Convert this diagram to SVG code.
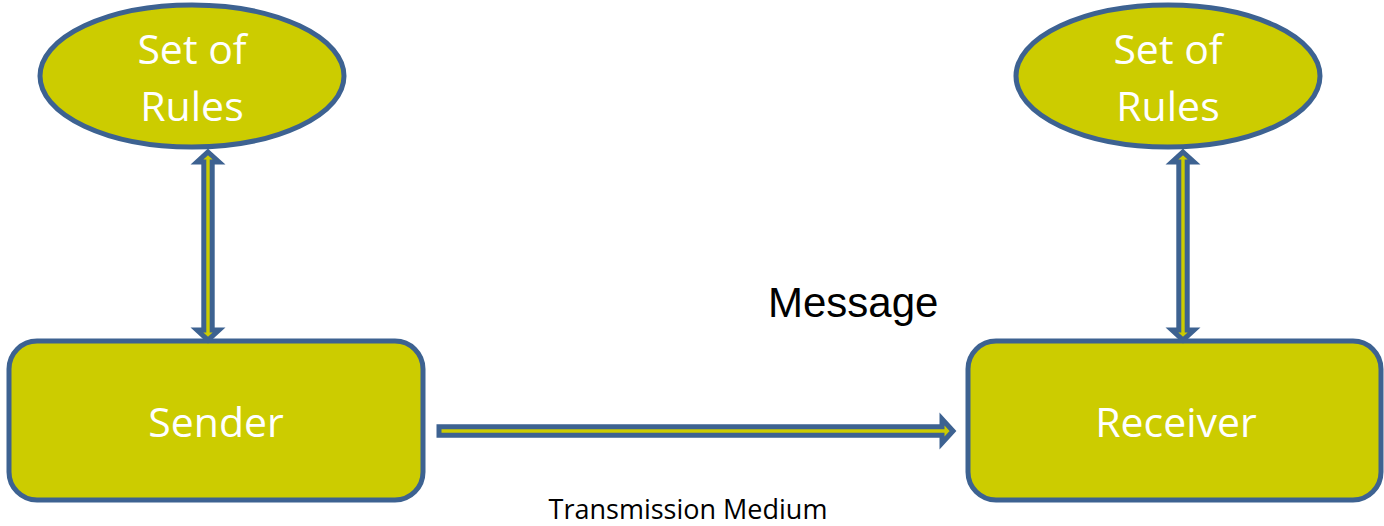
<svg xmlns="http://www.w3.org/2000/svg" width="1384" height="526" viewBox="0 0 1384 526">
<style>
.shape{fill:#CCCC00;stroke:#3D6291;stroke-width:5}
.conn{fill:#CCCC00;stroke:#3D6291;stroke-width:5;stroke-linejoin:miter}
.lbl{font-family:"Open Sans","Liberation Sans",sans-serif;fill:#FFFFFF;text-anchor:middle}
</style>
<rect width="1384" height="526" fill="#FFFFFF"/>
<g id="rules-left">
<ellipse class="shape" cx="192" cy="76" rx="152" ry="71"/>
<text class="lbl" x="192" y="64" font-size="41">Set of</text>
<text class="lbl" x="192" y="121" font-size="41">Rules</text>
</g>
<g id="rules-right">
<ellipse class="shape" cx="1168" cy="76" rx="152" ry="71"/>
<text class="lbl" x="1168" y="64" font-size="41">Set of</text>
<text class="lbl" x="1168" y="121" font-size="41">Rules</text>
</g>
<g id="sender">
<rect class="shape" x="9" y="341" width="414" height="159" rx="28"/>
<text class="lbl" x="216" y="437" font-size="41">Sender</text>
</g>
<g id="receiver">
<rect class="shape" x="968" y="341" width="413" height="159" rx="28"/>
<text class="lbl" x="1176" y="437" font-size="41">Receiver</text>
</g>
<g id="connectors">
<polygon class="conn" points="208,152 219,162 212.2,162 212.2,330 219,330 208,340 197,330 203.8,330 203.8,162 197,162"/>
<polygon class="conn" points="1183,152 1194,162 1187.2,162 1187.2,330 1194,330 1183,340 1172,330 1178.8,330 1178.8,162 1172,162"/>
<polygon class="conn" points="439,426.8 942,426.8 942,419 953,431 942,443 942,435.2 439,435.2"/>
</g>
<text x="768" y="317" font-family="'Liberation Sans',Arial,sans-serif" font-size="42" fill="#000000">Message</text>
<text x="688" y="519" font-family="'Open Sans','Liberation Sans',sans-serif" font-size="27" fill="#000000" text-anchor="middle">Transmission Medium</text>
</svg>
